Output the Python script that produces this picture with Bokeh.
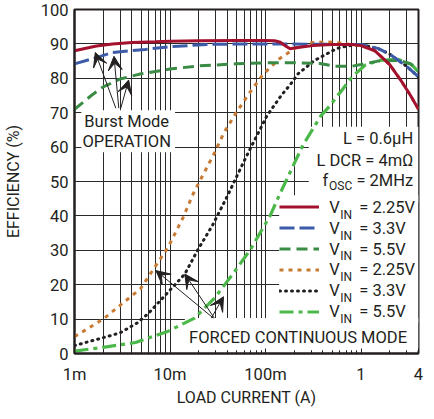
from bokeh.plotting import figure
from bokeh.models import (FixedTicker, BoxAnnotation, Label, Arrow, VeeHead,
                          Legend, LegendItem, Range1d)
from bokeh.core.properties import value
from bokeh.embed import file_html
from bokeh.resources import INLINE

FONT = "Roboto"
FS = "16.5px"
SUB = "12px"
TXT = "#231f20"
GRID = "#2a2a2a"

# ---------------- data (load current in A, efficiency in %) ----------------
# Burst Mode operation
burst_225_x = [0.001, 0.0017, 0.0025, 0.004, 0.007, 0.01, 0.02, 0.05, 0.1, 0.125,
               0.143, 0.16, 0.181, 0.2, 0.25, 0.313, 0.5, 0.8, 1.0, 1.4, 2.0, 2.6, 3.3, 4.0]
burst_225_y = [88.0, 89.4, 90.0, 90.4, 90.6, 90.8, 90.9, 91.0, 91.0, 90.9,
               90.5, 89.5, 88.6, 88.8, 89.2, 89.5, 89.8, 89.8, 89.5, 88.0, 84.0, 79.5, 75.0, 71.0]

burst_33_x = [0.001, 0.0017, 0.0025, 0.0055, 0.01, 0.027, 0.1, 0.3, 1.0, 1.5, 2.0, 3.0, 4.0]
burst_33_y = [84.2, 86.0, 87.5, 88.4, 89.2, 89.9, 90.0, 89.9, 89.8, 88.7, 87.0, 83.5, 80.4]

burst_55_x = [0.001, 0.0015, 0.002, 0.003, 0.005, 0.01, 0.02, 0.05, 0.1, 0.2, 0.37,
              0.54, 0.8, 1.0, 1.5, 2.5, 3.3, 4.0]
burst_55_y = [71.0, 75.0, 77.5, 79.8, 81.3, 82.7, 83.6, 84.2, 84.5, 84.5, 84.3,
              83.5, 83.5, 84.0, 85.0, 85.2, 84.2, 82.0]

# Forced continuous mode
fcm_225_x = [0.001, 0.002, 0.003, 0.0049, 0.0067, 0.0096, 0.0137, 0.0174, 0.0196, 0.0291,
             0.0369, 0.0506, 0.0695, 0.0953, 0.142, 0.209, 0.291, 0.425, 0.593, 0.8,
             1.0, 1.4, 2.0, 2.6, 3.3, 4.0]
fcm_225_y = [4.9, 10.0, 14.0, 18.8, 24.5, 31.0, 39.5, 46.3, 49.1, 58.2,
             64.3, 70.5, 76.1, 81.3, 85.8, 88.9, 90.3, 90.6, 90.3, 89.8,
             89.5, 88.0, 84.0, 79.5, 75.0, 71.0]

fcm_33_x = [0.001, 0.002, 0.003, 0.00454, 0.00597, 0.0096, 0.0143, 0.0196, 0.0279, 0.0399,
            0.0593, 0.0752, 0.103, 0.146, 0.181, 0.219, 0.327, 0.502, 0.593, 0.8,
            1.0, 1.5, 2.0, 3.0, 4.0]
fcm_33_y = [2.3, 4.6, 6.0, 8.9, 11.7, 17.9, 23.1, 30.2, 37.3, 45.8,
            55.8, 61.5, 69.0, 75.0, 78.1, 81.3, 85.2, 88.0, 88.9, 89.6,
            89.8, 88.7, 87.0, 83.5, 80.4]

fcm_55_x = [0.001, 0.002, 0.00436, 0.0096, 0.0181, 0.0291, 0.0468, 0.0695, 0.112, 0.142,
            0.246, 0.378, 0.468, 0.637, 0.807, 1.1, 1.53, 2.47, 3.36, 4.0]
fcm_55_y = [0.7, 1.8, 3.2, 6.5, 10.3, 16.0, 23.6, 30.2, 40.1, 46.5,
            60.5, 69.0, 71.9, 76.7, 80.4, 83.8, 85.2, 85.5, 84.1, 81.8]

legend_values = ["2.25V", "3.3V", "5.5V", "2.25V", "3.3V", "5.5V"]

x_ticks = [0.001, 0.01, 0.1, 1, 4]
x_tick_labels = ["1m", "10m", "100m", "1", "4"]
x_minor = [m * 10.0 ** e for e in (-3, -2, -1) for m in range(2, 10)] + [2, 3]
y_ticks = list(range(0, 101, 10))

# ---------------- figure ----------------
p = figure(frame_width=344, frame_height=344, x_axis_type="log",
           x_range=Range1d(0.001, 4), y_range=Range1d(0, 100),
           output_backend="svg", toolbar_location=None,
           min_border_left=68, min_border_right=6, min_border_top=9, min_border_bottom=50,
           x_axis_label="LOAD CURRENT (A)", y_axis_label="EFFICIENCY (%)",
           background_fill_color="white", border_fill_color="white")

xt = FixedTicker(ticks=x_ticks, minor_ticks=x_minor)
yt = FixedTicker(ticks=y_ticks, minor_ticks=[])
p.xaxis.ticker = xt
p.xgrid.ticker = xt
p.yaxis.ticker = yt
p.ygrid.ticker = yt
p.xaxis.major_label_overrides = dict(zip(x_ticks, x_tick_labels))

for g in (p.xgrid, p.ygrid):
    g.grid_line_color = GRID
    g.grid_line_width = 1
p.xgrid.minor_grid_line_color = GRID
p.xgrid.minor_grid_line_width = 1

p.outline_line_color = TXT
p.outline_line_width = 2
p.outline_line_alpha = 1
for ax in (p.xaxis, p.yaxis):
    ax.axis_line_color = TXT
    ax.axis_line_width = 2
    ax.major_label_text_font = FONT
    ax.major_label_text_font_size = FS
    ax.major_label_text_color = TXT
    ax.axis_label_text_font = FONT
    ax.axis_label_text_font_size = "16px"
    ax.axis_label_text_font_style = "normal"
    ax.axis_label_text_color = TXT
    ax.major_tick_line_color = TXT
    ax.minor_tick_line_color = TXT
p.xaxis.major_tick_in = 5
p.xaxis.major_tick_out = 0
p.xaxis.minor_tick_in = 3
p.xaxis.minor_tick_out = 0
p.yaxis.major_tick_in = 0
p.yaxis.major_tick_out = 0
p.yaxis.minor_tick_in = 0
p.yaxis.minor_tick_out = 0
p.xaxis.major_label_standoff = 11
p.yaxis.major_label_standoff = 6
p.xaxis.axis_label_standoff = 1
p.yaxis.axis_label_standoff = 15

# white label backgrounds (above grid, below curves)
boxes = [
    dict(left=0.00118, right=0.0113, top=70.7, bottom=58.5),   # Burst Mode OPERATION
    dict(left=0.284, right=4.0, top=65.9, bottom=44.0),        # L / DCR / fOSC
    dict(left=0.139, right=4.0, top=46.0, bottom=9.0),         # legend
    dict(left=0.0143, right=4.0, top=10.3, bottom=0.85),       # FORCED CONTINUOUS MODE
]
for b in boxes:
    p.add_layout(BoxAnnotation(fill_color="white", fill_alpha=1, line_alpha=0,
                               level="underlay", **b))

# ---------------- curves ----------------
r_f55 = p.line(fcm_55_x, fcm_55_y, line_color="#4cb84a", line_width=3.2,
               line_dash="14 5 4 5")
r_f33 = p.line(fcm_33_x, fcm_33_y, line_color=TXT, line_width=3,
               line_dash="1 5", line_cap="round")
r_f225 = p.line(fcm_225_x, fcm_225_y, line_color="#c87a33", line_width=3,
                line_dash="4 5")
r_b55 = p.line(burst_55_x, burst_55_y, line_color="#3a8b45", line_width=3,
               line_dash="11 6")
r_b33 = p.line(burst_33_x, burst_33_y, line_color="#3c5ba9", line_width=3,
               line_dash="15 5")
r_b225 = p.line(burst_225_x, burst_225_y, line_color="#a3112f", line_width=3)

legend_renderers = [r_b225, r_b33, r_b55, r_f225, r_f33, r_f55]
leg = Legend(items=[LegendItem(label=value(" "), renderers=[r]) for r in legend_renderers],
             location=(205, 31), padding=0, margin=0, spacing=0,
             label_height=21, glyph_height=21, glyph_width=40, label_standoff=0,
             label_width=1, label_text_font_size="1px",
             background_fill_alpha=0, border_line_alpha=0)
p.add_layout(leg)

# legend texts with subscripts
leg_x = 0.465
leg_rows = [42.3, 36.3, 30.3, 24.3, 18.2, 12.2]
for yv, txt in zip(leg_rows, legend_values):
    p.add_layout(Label(x=leg_x, y=yv, text="V", text_font=FONT, text_font_size=FS,
                       text_color=TXT, text_align="left", text_baseline="middle"))
    p.add_layout(Label(x=leg_x, y=yv, text="IN", text_font=FONT, text_font_size=SUB,
                       text_color=TXT, text_align="left", text_baseline="middle",
                       x_offset=11, y_offset=-7))
    p.add_layout(Label(x=leg_x, y=yv, text="= " + txt, text_font=FONT, text_font_size=FS,
                       text_color=TXT, text_align="left", text_baseline="middle",
                       x_offset=30))

# conditions block
cond_x = 3.52
p.add_layout(Label(x=cond_x, y=62.6, text="L = 0.6µH", text_font=FONT, text_font_size=FS,
                   text_color=TXT, text_align="right", text_baseline="middle"))
p.add_layout(Label(x=cond_x, y=56.2, text="L DCR = 4mΩ", text_font=FONT, text_font_size=FS,
                   text_color=TXT, text_align="right", text_baseline="middle"))
p.add_layout(Label(x=cond_x, y=50.3, text="= 2MHz", text_font=FONT, text_font_size=FS,
                   text_color=TXT, text_align="right", text_baseline="middle"))
p.add_layout(Label(x=cond_x, y=50.3, text="OSC", text_font=FONT, text_font_size=SUB,
                   text_color=TXT, text_align="right", text_baseline="middle",
                   x_offset=-61, y_offset=-6))
p.add_layout(Label(x=cond_x, y=50.3, text="f", text_font=FONT, text_font_size=FS,
                   text_color=TXT, text_align="right", text_baseline="middle",
                   x_offset=-85))

# mode labels
p.add_layout(Label(x=0.00352, y=67.3, text="Burst Mode", text_font=FONT, text_font_size=FS,
                   text_color=TXT, text_align="center", text_baseline="middle"))
p.add_layout(Label(x=0.00352, y=61.6, text="OPERATION", text_font=FONT, text_font_size=FS,
                   text_color=TXT, text_align="center", text_baseline="middle"))
p.add_layout(Label(x=0.219, y=4.7, text="FORCED CONTINUOUS MODE", text_font=FONT,
                   text_font_size=FS, text_color=TXT, text_align="center",
                   text_baseline="middle"))

# arrows
burst_arrows = [((0.00271, 71.3), (0.00165, 87.5)),
                ((0.00291, 71.3), (0.00259, 86.4)),
                ((0.00305, 71.3), (0.00369, 79.5))]
fcm_arrows = [((0.0284, 10.3), (0.00712, 24.1)),
              ((0.0291, 10.3), (0.0143, 23.1)),
              ((0.0271, 10.3), (0.0363, 16.5))]
for (x0, y0), (x1, y1) in burst_arrows + fcm_arrows:
    p.add_layout(Arrow(end=VeeHead(size=14, fill_color=TXT, line_color=TXT, line_width=1),
                       x_start=x0, y_start=y0, x_end=x1, y_end=y1,
                       line_color=TXT, line_width=1))

open("out.html", "w").write(file_html(p, INLINE))
